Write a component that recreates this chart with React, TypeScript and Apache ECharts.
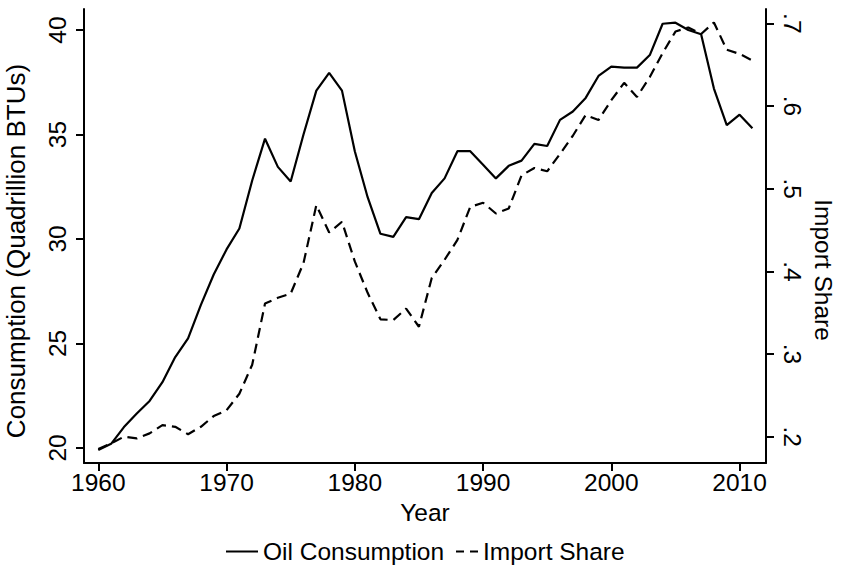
import React, { useEffect, useRef } from "react";
import * as echarts from "echarts";

const years = [
  1960, 1961, 1962, 1963, 1964, 1965, 1966, 1967, 1968, 1969,
  1970, 1971, 1972, 1973, 1974, 1975, 1976, 1977, 1978, 1979,
  1980, 1981, 1982, 1983, 1984, 1985, 1986, 1987, 1988, 1989,
  1990, 1991, 1992, 1993, 1994, 1995, 1996, 1997, 1998, 1999,
  2000, 2001, 2002, 2003, 2004, 2005, 2006, 2007, 2008, 2009,
  2010, 2011,
];

const oilConsumption = [
  19.9, 20.2, 21.0, 21.65, 22.25, 23.15, 24.35, 25.25, 26.85, 28.3,
  29.5, 30.5, 32.8, 34.8, 33.45, 32.75, 35.0, 37.1, 37.95, 37.1,
  34.2, 32.0, 30.25, 30.1, 31.05, 30.95, 32.2, 32.9, 34.2, 34.2,
  33.55, 32.9, 33.5, 33.75, 34.55, 34.45, 35.7, 36.1, 36.75, 37.8,
  38.25, 38.2, 38.2, 38.8, 40.3, 40.35, 40.0, 39.8, 37.2, 35.45,
  35.95, 35.3,
];

const importShare = [
  0.185, 0.192, 0.2, 0.198, 0.204, 0.214, 0.212, 0.203, 0.212, 0.225,
  0.232, 0.252, 0.287, 0.361, 0.368, 0.373, 0.41, 0.48, 0.447, 0.46,
  0.412, 0.374, 0.342, 0.341, 0.355, 0.333, 0.392, 0.414, 0.438, 0.478,
  0.483, 0.47, 0.476, 0.516, 0.525, 0.521, 0.542, 0.564, 0.589, 0.583,
  0.607, 0.628, 0.611, 0.635, 0.664, 0.69, 0.695, 0.687, 0.701, 0.668,
  0.663, 0.655,
];

const xTicks = [1960, 1970, 1980, 1990, 2000, 2010];
const leftTicks = [20, 25, 30, 35, 40];
const rightTicks = [0.2, 0.3, 0.4, 0.5, 0.6, 0.7];

const FONT = "'Liberation Sans', Arial, Helvetica, sans-serif";
const FS = 24.5;

export default function App() {
  const ref = useRef<HTMLDivElement>(null);

  useEffect(() => {
    if (!ref.current) return;
    const chart = echarts.init(ref.current, undefined, { renderer: "svg" });
    const axisLineStyle = { color: "#000", width: 2 };
    chart.setOption({
      animation: false,
      backgroundColor: "#fff",
      textStyle: { fontFamily: FONT },
      grid: { left: 84, right: 75, top: 9, bottom: 105, containLabel: false },
      xAxis: {
        type: "value",
        min: 1958.886,
        max: 2012.06,
        name: "Year",
        nameLocation: "middle",
        nameGap: 26,
        nameTextStyle: { fontSize: FS, color: "#000", fontFamily: FONT },
        axisLine: { show: true, onZero: false, lineStyle: axisLineStyle },
        axisTick: { show: true, length: 8, customValues: xTicks, lineStyle: axisLineStyle },
        axisLabel: {
          customValues: xTicks,
          margin: 7,
          fontSize: FS,
          color: "#000",
          fontFamily: FONT,
          formatter: (v: number) => String(v),
        },
        splitLine: { show: false },
      },
      yAxis: [
        {
          type: "value",
          position: "left",
          min: 19.282,
          max: 41.005,
          axisLine: { show: true, onZero: false, lineStyle: axisLineStyle },
          axisTick: { show: true, length: 8, customValues: leftTicks, lineStyle: axisLineStyle },
          axisLabel: {
            customValues: leftTicks,
            rotate: 90,
            margin: 14,
            fontSize: FS,
            color: "#000",
            fontFamily: FONT,
            formatter: (v: number) => String(v),
          },
          splitLine: { show: false },
        },
        {
          type: "value",
          position: "right",
          min: 0.1682,
          max: 0.7173,
          axisLine: { show: true, onZero: false, lineStyle: axisLineStyle },
          axisTick: { show: true, length: 8, customValues: rightTicks, lineStyle: axisLineStyle },
          axisLabel: {
            customValues: rightTicks,
            rotate: -90,
            margin: 14,
            fontSize: FS,
            color: "#000",
            fontFamily: FONT,
            formatter: (v: number) => v.toFixed(1).replace(/^0/, ""),
          },
          splitLine: { show: false },
        },
      ],
      legend: [
        {
          data: [{ name: "Oil Consumption", icon: "path://M0,0h32v2h-32z" }],
          left: 226,
          top: 539,
          padding: 0,
          itemWidth: 32,
          itemHeight: 2,
          itemStyle: { color: "#000", borderWidth: 0 },
          textStyle: { fontSize: FS, color: "#000", fontFamily: FONT },
          selectedMode: false,
        },
        {
          data: [{ name: "Import Share", icon: "path://M0,0h8v2h-8zM14,0h8v2h-8z" }],
          left: 456,
          top: 539,
          padding: 0,
          itemWidth: 22,
          itemHeight: 2,
          itemStyle: { color: "#000", borderWidth: 0 },
          textStyle: { fontSize: FS, color: "#000", fontFamily: FONT },
          selectedMode: false,
        },
      ],
      graphic: [
        {
          type: "text",
          x: 3,
          y: 251,
          rotation: Math.PI / 2,
          style: {
            text: "Consumption (Quadrillion BTUs)",
            fontSize: 26,
            fontFamily: FONT,
            fill: "#000",
            align: "center",
            verticalAlign: "top",
            textAlign: "center",
            textVerticalAlign: "top",
          },
        },
        {
          type: "text",
          x: 836,
          y: 270,
          rotation: -Math.PI / 2,
          style: {
            text: "Import Share",
            fontSize: FS,
            fontFamily: FONT,
            fill: "#000",
            align: "center",
            verticalAlign: "top",
            textAlign: "center",
            textVerticalAlign: "top",
          },
        },
      ],
      series: [
        {
          name: "Oil Consumption",
          type: "line",
          yAxisIndex: 0,
          data: years.map((y, i) => [y, oilConsumption[i]]),
          showSymbol: false,
          symbol: "none",
          lineStyle: { color: "#000", width: 2.2, type: "solid" },
          itemStyle: { color: "#000" },
        },
        {
          name: "Import Share",
          type: "line",
          yAxisIndex: 1,
          data: years.map((y, i) => [y, importShare[i]]),
          showSymbol: false,
          symbol: "none",
          lineStyle: { color: "#000", width: 2.2, type: [10, 6] },
          itemStyle: { color: "#000" },
        },
      ],
    });
    return () => chart.dispose();
  }, []);

  return (
    <div
      ref={ref}
      style={{ position: "fixed", left: 0, top: 0, width: 841, height: 568, background: "#fff" }}
    />
  );
}
